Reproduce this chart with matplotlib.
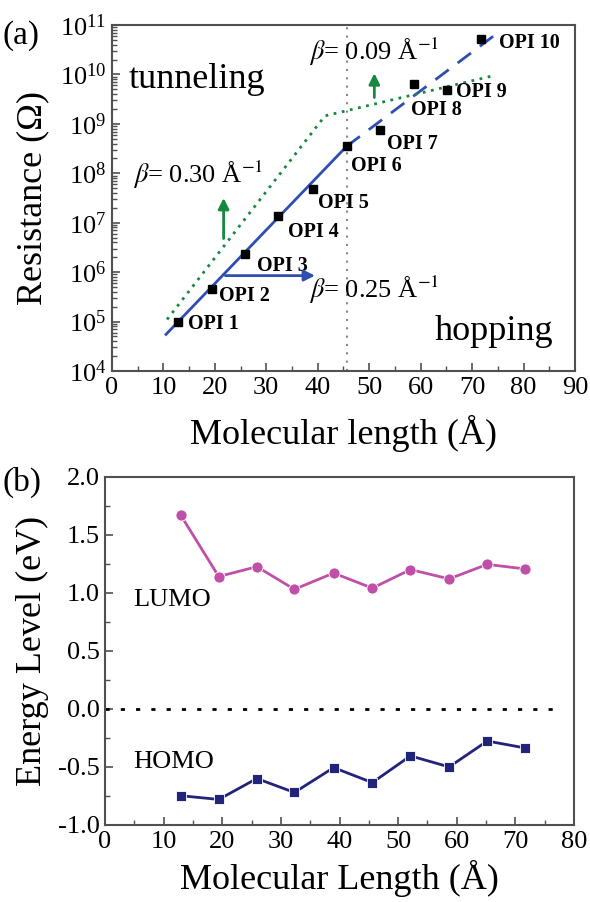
import numpy as np
import matplotlib
matplotlib.use('Agg')
import matplotlib.pyplot as plt
from matplotlib.ticker import LogLocator, MultipleLocator, NullFormatter

plt.rcParams['font.family'] = ['Liberation Serif', 'DejaVu Serif']
plt.rcParams['mathtext.fontset'] = 'stix'

# molecular lengths of OPI 1..10 (Angstrom)
length = [12.9, 19.4, 25.9, 32.3, 39.0, 45.6, 52.1, 58.7, 65.2, 71.7]
opi_names = ['OPI 1', 'OPI 2', 'OPI 3', 'OPI 4', 'OPI 5',
             'OPI 6', 'OPI 7', 'OPI 8', 'OPI 9', 'OPI 10']
resistance = [9.8e4, 4.6e5, 2.3e6, 1.37e7, 4.8e7, 3.5e8, 7.6e8, 6.5e9, 4.9e9, 5.3e10]

# fit lines
fit_short_x = [10.5, 45.6]
fit_short_r = [5.5e4, 3.5e8]
fit_long_x = [45.6, 74.1]
fit_long_r = [3.5e8, 5.9e10]
tunnel_x = [10.7, 41.4, 74.1]
tunnel_r = [1.1e5, 1.45e9, 9.4e9]
boundary_x = 45.6

# panel (b) energy levels
lumo = [1.67, 1.14, 1.225, 1.03, 1.17, 1.04, 1.20, 1.12, 1.245, 1.205]
homo = [-0.748, -0.78, -0.60, -0.72, -0.506, -0.635, -0.405, -0.50, -0.277, -0.337]

# label offsets in pixels (dx, dy) from each marker
opi_offsets = [(10, -2), (7, -7), (12, -12), (10, -16), (5, -14),
               (4, -20), (7, -14), (-3, -26), (9, -2), (18, -4)]

fig = plt.figure(figsize=(5.9, 9.02), dpi=100)
spine_col = '#505050'
blue = '#2e4fb0'
green = '#16883f'

def style_axes(ax):
    for s in ax.spines.values():
        s.set_color(spine_col)
        s.set_linewidth(1.5)
    ax.tick_params(which='both', direction='in', top=False, right=False,
                   labelsize=19, colors='black', pad=4)
    ax.tick_params(which='major', length=6, width=1.2, color=spine_col)
    ax.tick_params(which='minor', length=3.5, width=1.0, color=spine_col)

# ---------------- panel (a)
ax1 = fig.add_axes([0.1898, 0.5887, 0.7847, 0.3836])
ax1.set_yscale('log')
ax1.set_xlim(0, 90)
ax1.set_ylim(1e4, 1e11)
ax1.yaxis.set_major_locator(LogLocator(base=10, numticks=20))
ax1.yaxis.set_minor_locator(LogLocator(base=10, subs=np.arange(2, 10), numticks=20))
ax1.yaxis.set_minor_formatter(NullFormatter())
ax1.xaxis.set_major_locator(MultipleLocator(10))
ax1.xaxis.set_minor_locator(MultipleLocator(5))
style_axes(ax1)

ax1.axvline(boundary_x, color='#888888', linestyle=(0, (1, 3)), linewidth=1.5)
ax1.plot(fit_short_x, fit_short_r, color=blue, linewidth=2)
ax1.plot(fit_long_x, fit_long_r, color=blue, linewidth=2, linestyle=(0, (6, 4)))
ax1.plot(tunnel_x, tunnel_r, color=green, linewidth=2, linestyle=(0, (1, 2)))
ax1.plot(length, resistance, 's', color='black', markersize=5.5, zorder=5)

for name, x, r, (dx, dy) in zip(opi_names, length, resistance, opi_offsets):
    ax1.annotate(name, (x, r), xytext=(dx, dy), textcoords='offset pixels',
                 fontsize=14.5, fontweight='bold', ha='left', va='center')

ax1.annotate('', xy=(21.7, 3.6e7), xytext=(21.7, 4.2e6),
             arrowprops=dict(arrowstyle='-|>', color=green, lw=2, mutation_scale=16))
ax1.annotate('', xy=(51.0, 1.2e10), xytext=(51.0, 3.0e9),
             arrowprops=dict(arrowstyle='-|>', color=green, lw=2, mutation_scale=16))
ax1.annotate('', xy=(40.0, 8.5e5), xytext=(21.5, 8.5e5),
             arrowprops=dict(arrowstyle='-|>', color=blue, lw=2, mutation_scale=16))

ax1.text(4.0, 10**7.97, r'$\beta$= 0.30 Å$^{-1}$', fontsize=19, va='center', ha='left')
ax1.text(38.3, 10**10.46, r'$\beta$= 0.09 Å$^{-1}$', fontsize=19, va='center', ha='left')
ax1.text(38.3, 10**5.64, r'$\beta$= 0.25 Å$^{-1}$', fontsize=19, va='center', ha='left')
ax1.text(3.3, 10**9.89, 'tunneling', fontsize=26, va='center', ha='left')
ax1.text(85.8, 10**4.80, 'hopping', fontsize=26, va='center', ha='right')

ax1.set_xlabel('Molecular length (Å)', fontsize=26, va='center')
ax1.xaxis.set_label_coords(0.5, -0.18)
ax1.set_ylabel('Resistance (Ω)', fontsize=26, va='center')
ax1.yaxis.set_label_coords(-0.17, 0.5)

# ---------------- panel (b)
ax2 = fig.add_axes([0.178, 0.0854, 0.7949, 0.3861])
ax2.set_xlim(0, 80)
ax2.set_ylim(-1.0, 2.0)
ax2.xaxis.set_major_locator(MultipleLocator(10))
ax2.xaxis.set_minor_locator(MultipleLocator(5))
ax2.yaxis.set_major_locator(MultipleLocator(0.5))
ax2.yaxis.set_minor_locator(MultipleLocator(0.25))
style_axes(ax2)
ax2.yaxis.set_major_formatter(plt.FuncFormatter(lambda v, p: f'{v:.1f}'))

ax2.plot([0, 78], [0, 0], color='black', linestyle=(0, (1.5, 4)), linewidth=2)
ax2.plot(length, lumo, '-o', color='#c04fa8', linewidth=2, markersize=8,
         markeredgecolor='white', markeredgewidth=0.6)
ax2.plot(length, homo, '-s', color='#22237a', linewidth=2, markersize=7,
         markeredgecolor='white', markeredgewidth=0.6)

ax2.text(4.8, 0.94, 'LUMO', fontsize=19, va='center', ha='left')
ax2.text(4.8, -0.455, 'HOMO', fontsize=19, va='center', ha='left')

ax2.set_xlabel('Molecular Length (Å)', fontsize=26, va='center')
ax2.xaxis.set_label_coords(0.5, -0.155)
ax2.set_ylabel('Energy Level (eV)', fontsize=26, va='center')
ax2.yaxis.set_label_coords(-0.155, 0.5)

fig.text(0.004, 1 - 36 / 902, '(a)', fontsize=24, va='center', ha='left')
fig.text(0.004, 1 - 482 / 902, '(b)', fontsize=24, va='center', ha='left')

fig.savefig('out.png', dpi=100)
